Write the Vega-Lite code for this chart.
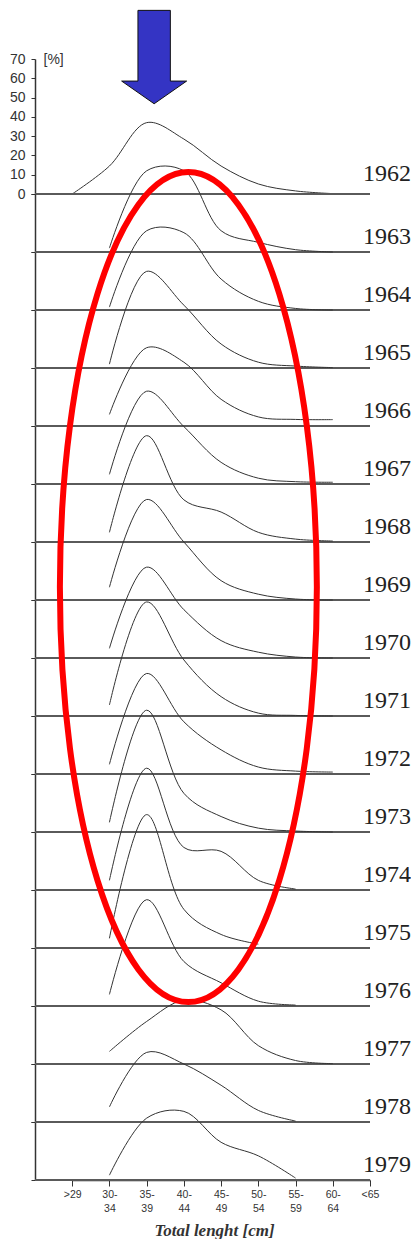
{
  "$schema": "https://vega.github.io/schema/vega-lite/v6.json",
  "padding": {"left": 9, "top": 8, "right": 0, "bottom": 0},
  "background": "white",
  "bounds": "flush",
  "config": {
    "view": {"stroke": null},
    "font": "Liberation Sans",
    "axis": {"grid": false, "domainColor": "#333", "tickColor": "#333", "labelColor": "#333", "titleColor": "#333"}
  },
  "data": {"values": [
    {"year": 1962, "cls": ">29", "pct": 0}, {"year": 1962, "cls": "30-34", "pct": 14.5}, {"year": 1962, "cls": "35-39", "pct": 37}, {"year": 1962, "cls": "40-44", "pct": 28.5}, {"year": 1962, "cls": "45-49", "pct": 14.5}, {"year": 1962, "cls": "50-54", "pct": 5.2}, {"year": 1962, "cls": "55-59", "pct": 1.6}, {"year": 1962, "cls": "60-64", "pct": 0.2},
    {"year": 1963, "cls": "30-34", "pct": 2}, {"year": 1963, "cls": "35-39", "pct": 42}, {"year": 1963, "cls": "40-44", "pct": 42}, {"year": 1963, "cls": "45-49", "pct": 11}, {"year": 1963, "cls": "50-54", "pct": 5}, {"year": 1963, "cls": "55-59", "pct": 1.2}, {"year": 1963, "cls": "60-64", "pct": 0},
    {"year": 1964, "cls": "30-34", "pct": 1.5}, {"year": 1964, "cls": "35-39", "pct": 41}, {"year": 1964, "cls": "40-44", "pct": 40}, {"year": 1964, "cls": "45-49", "pct": 16}, {"year": 1964, "cls": "50-54", "pct": 4.5}, {"year": 1964, "cls": "55-59", "pct": 0.8}, {"year": 1964, "cls": "60-64", "pct": 0},
    {"year": 1965, "cls": "30-34", "pct": 2}, {"year": 1965, "cls": "35-39", "pct": 50}, {"year": 1965, "cls": "40-44", "pct": 32.5}, {"year": 1965, "cls": "45-49", "pct": 12.4}, {"year": 1965, "cls": "50-54", "pct": 3}, {"year": 1965, "cls": "55-59", "pct": 1}, {"year": 1965, "cls": "60-64", "pct": 0.2},
    {"year": 1966, "cls": "30-34", "pct": 6}, {"year": 1966, "cls": "35-39", "pct": 40.5}, {"year": 1966, "cls": "40-44", "pct": 33}, {"year": 1966, "cls": "45-49", "pct": 13.8}, {"year": 1966, "cls": "50-54", "pct": 4.7}, {"year": 1966, "cls": "55-59", "pct": 3.4}, {"year": 1966, "cls": "60-64", "pct": 3.3},
    {"year": 1967, "cls": "30-34", "pct": 5}, {"year": 1967, "cls": "35-39", "pct": 48}, {"year": 1967, "cls": "40-44", "pct": 29.7}, {"year": 1967, "cls": "45-49", "pct": 11.2}, {"year": 1967, "cls": "50-54", "pct": 3}, {"year": 1967, "cls": "55-59", "pct": 1.2}, {"year": 1967, "cls": "60-64", "pct": 0.9},
    {"year": 1968, "cls": "30-34", "pct": 5}, {"year": 1968, "cls": "35-39", "pct": 55}, {"year": 1968, "cls": "40-44", "pct": 21.8}, {"year": 1968, "cls": "45-49", "pct": 15.5}, {"year": 1968, "cls": "50-54", "pct": 5}, {"year": 1968, "cls": "55-59", "pct": 1.5}, {"year": 1968, "cls": "60-64", "pct": 0.5},
    {"year": 1969, "cls": "30-34", "pct": 6.6}, {"year": 1969, "cls": "35-39", "pct": 52}, {"year": 1969, "cls": "40-44", "pct": 30}, {"year": 1969, "cls": "45-49", "pct": 10}, {"year": 1969, "cls": "50-54", "pct": 3}, {"year": 1969, "cls": "55-59", "pct": 0.5}, {"year": 1969, "cls": "60-64", "pct": 0},
    {"year": 1970, "cls": "30-34", "pct": 5}, {"year": 1970, "cls": "35-39", "pct": 47}, {"year": 1970, "cls": "40-44", "pct": 25}, {"year": 1970, "cls": "45-49", "pct": 9}, {"year": 1970, "cls": "50-54", "pct": 3}, {"year": 1970, "cls": "55-59", "pct": 0.5}, {"year": 1970, "cls": "60-64", "pct": 0},
    {"year": 1971, "cls": "30-34", "pct": 5.7}, {"year": 1971, "cls": "35-39", "pct": 59}, {"year": 1971, "cls": "40-44", "pct": 29}, {"year": 1971, "cls": "45-49", "pct": 10}, {"year": 1971, "cls": "50-54", "pct": 1.5}, {"year": 1971, "cls": "55-59", "pct": 0.3}, {"year": 1971, "cls": "60-64", "pct": 0},
    {"year": 1972, "cls": "30-34", "pct": 5}, {"year": 1972, "cls": "35-39", "pct": 52}, {"year": 1972, "cls": "40-44", "pct": 27}, {"year": 1972, "cls": "45-49", "pct": 12.5}, {"year": 1972, "cls": "50-54", "pct": 3.6}, {"year": 1972, "cls": "55-59", "pct": 1.5}, {"year": 1972, "cls": "60-64", "pct": 1},
    {"year": 1973, "cls": "30-34", "pct": 5}, {"year": 1973, "cls": "35-39", "pct": 63}, {"year": 1973, "cls": "40-44", "pct": 20}, {"year": 1973, "cls": "45-49", "pct": 8}, {"year": 1973, "cls": "50-54", "pct": 2}, {"year": 1973, "cls": "55-59", "pct": 0.5}, {"year": 1973, "cls": "60-64", "pct": 0},
    {"year": 1974, "cls": "30-34", "pct": 5}, {"year": 1974, "cls": "35-39", "pct": 63}, {"year": 1974, "cls": "40-44", "pct": 22}, {"year": 1974, "cls": "45-49", "pct": 20}, {"year": 1974, "cls": "50-54", "pct": 5}, {"year": 1974, "cls": "55-59", "pct": 0.5},
    {"year": 1975, "cls": "30-34", "pct": 5}, {"year": 1975, "cls": "35-39", "pct": 69}, {"year": 1975, "cls": "40-44", "pct": 20}, {"year": 1975, "cls": "45-49", "pct": 7}, {"year": 1975, "cls": "50-54", "pct": 2},
    {"year": 1976, "cls": "30-34", "pct": 6}, {"year": 1976, "cls": "35-39", "pct": 55}, {"year": 1976, "cls": "40-44", "pct": 23}, {"year": 1976, "cls": "45-49", "pct": 12}, {"year": 1976, "cls": "50-54", "pct": 2.5}, {"year": 1976, "cls": "55-59", "pct": 0.5},
    {"year": 1977, "cls": "30-34", "pct": 6.5}, {"year": 1977, "cls": "35-39", "pct": 22}, {"year": 1977, "cls": "40-44", "pct": 33}, {"year": 1977, "cls": "45-49", "pct": 28}, {"year": 1977, "cls": "50-54", "pct": 9.5}, {"year": 1977, "cls": "55-59", "pct": 1.8}, {"year": 1977, "cls": "60-64", "pct": 0.2},
    {"year": 1978, "cls": "30-34", "pct": 7.8}, {"year": 1978, "cls": "35-39", "pct": 36}, {"year": 1978, "cls": "40-44", "pct": 30}, {"year": 1978, "cls": "45-49", "pct": 19}, {"year": 1978, "cls": "50-54", "pct": 6}, {"year": 1978, "cls": "55-59", "pct": 0.5},
    {"year": 1979, "cls": "30-34", "pct": 2.5}, {"year": 1979, "cls": "35-39", "pct": 32}, {"year": 1979, "cls": "40-44", "pct": 35.5}, {"year": 1979, "cls": "45-49", "pct": 19.5}, {"year": 1979, "cls": "50-54", "pct": 12.5}, {"year": 1979, "cls": "55-59", "pct": 1}
  ]},
  "spacing": 0,
  "resolve": {"scale": {"x": "independent", "y": "independent"}},
  "vconcat": [
    {
      "width": 335,
      "height": 135,
      "transform": [{"filter": "datum.year == 1962"}],
      "layer": [
        {
          "mark": {"type": "line", "interpolate": "catmull-rom", "color": "#333", "strokeWidth": 1},
          "encoding": {
            "x": {"field": "cls", "type": "ordinal", "sort": [">29", "30-34", "35-39", "40-44", "45-49", "50-54", "55-59", "60-64", "<65"],
                  "scale": {"type": "point", "domain": [">29", "30-34", "35-39", "40-44", "45-49", "50-54", "55-59", "60-64", "<65"], "range": [37.2, 335], "padding": 0},
                  "axis": null},
            "y": {"field": "pct", "type": "quantitative",
                  "scale": {"domain": [0, 70], "nice": false, "zero": true},
                  "axis": {"values": [0, 10, 20, 30, 40, 50, 60, 70], "tickCount": 8, "title": "[%]", "titleAngle": 0, "titleAlign": "left", "titleBaseline": "middle", "titleX": 8, "titleY": 0, "titleFontSize": 14, "titleFontWeight": "normal", "labelFontSize": 14, "labelPadding": 6, "labelOverlap": false, "labelFlush": false, "labelBound": false, "labelSeparation": 0, "tickSize": 4, "domainWidth": 1.5}}
          }
        },
        {
          "transform": [{"filter": "datum.cls == '35-39'"}],
          "mark": {"type": "rule", "color": "#5a5a5a", "strokeWidth": 1.8},
          "encoding": {"y": {"datum": 0, "type": "quantitative",
                  "scale": {"domain": [0, 70], "nice": false, "zero": true},
                  "axis": {"values": [0, 10, 20, 30, 40, 50, 60, 70], "tickCount": 8, "title": "[%]", "titleAngle": 0, "titleAlign": "left", "titleBaseline": "middle", "titleX": 8, "titleY": 0, "titleFontSize": 14, "titleFontWeight": "normal", "labelFontSize": 14, "labelPadding": 6, "labelOverlap": false, "labelFlush": false, "labelBound": false, "labelSeparation": 0, "tickSize": 4, "domainWidth": 1.5}}}
        },
        {
          "transform": [{"filter": "datum.cls == '35-39'"}],
          "mark": {"type": "text", "font": "Liberation Serif", "fontSize": 24, "align": "left", "baseline": "alphabetic", "dx": -7, "color": "#222"},
          "encoding": {
            "x": {"datum": "<65", "type": "ordinal"},
            "y": {"datum": 7, "type": "quantitative"},
            "text": {"field": "year", "type": "nominal"}
          }
        },
        {
          "transform": [{"filter": "datum.cls == '35-39'"}],
          "mark": {"type": "point", "shape": "M -0.347 -1 L 0.347 -1 L 0.347 0.514 L 0.696 0.514 L 0 1 L -0.696 0.514 L -0.347 0.514 Z", "size": 8724, "filled": true, "color": "#3434c4", "stroke": "#111", "strokeWidth": 1, "opacity": 1, "xOffset": 7.5},
          "encoding": {
            "x": {"datum": "35-39", "type": "ordinal"},
            "y": {"datum": 71, "type": "quantitative"}
          }
        }
      ]
    },
    {
      "transform": [{"filter": "datum.year > 1962"}],
      "facet": {"row": {"field": "year", "type": "ordinal", "header": null}},
      "spacing": 0,
      "bounds": "flush",
      "spec": {
        "width": 335,
        "height": 58,
        "layer": [
          {
            "transform": [{"filter": "datum.cls == '35-39'"}],
            "mark": {"type": "rule", "color": "#5a5a5a", "strokeWidth": 1.8},
            "encoding": {"y": {"datum": 0, "type": "quantitative"}}
          },
          {
            "mark": {"type": "line", "interpolate": "catmull-rom", "color": "#333", "strokeWidth": 1},
            "encoding": {
              "x": {"field": "cls", "type": "ordinal", "sort": [">29", "30-34", "35-39", "40-44", "45-49", "50-54", "55-59", "60-64", "<65"],
                    "scale": {"type": "point", "domain": [">29", "30-34", "35-39", "40-44", "45-49", "50-54", "55-59", "60-64", "<65"], "range": [37.2, 335], "padding": 0},
                    "axis": {"title": "Total lenght [cm]", "labelExpr": "datum.value == '>29' || datum.value == '<65' ? datum.value : [slice(datum.value, 0, 3), slice(datum.value, 3)]", "labelAngle": 0, "labelFontSize": 10.5, "labelLineHeight": 14, "labelPadding": 3, "tickSize": 6, "domainWidth": 1.5, "titleFont": "Liberation Serif", "titleFontStyle": "italic", "titleFontWeight": "bold", "titleFontSize": 17, "titlePadding": 9, "titleX": 179}},
              "y": {"field": "pct", "type": "quantitative",
                    "scale": {"domain": [0, 30], "nice": false, "zero": true},
                    "axis": {"values": [0, 10, 20, 30], "labels": false, "title": null, "tickSize": 4, "domainWidth": 1.5}}
            }
          },
          {
            "transform": [{"filter": "datum.cls == '35-39'"}],
            "mark": {"type": "text", "font": "Liberation Serif", "fontSize": 24, "align": "left", "baseline": "alphabetic", "dx": -7, "color": "#222"},
            "encoding": {
              "x": {"datum": "<65", "type": "ordinal"},
              "y": {"datum": 4, "type": "quantitative"},
              "text": {"field": "year", "type": "nominal"}
            }
          },
          {
            "transform": [{"filter": "datum.year == 1979 && datum.cls == '35-39'"}],
            "mark": {"type": "point", "shape": "M -0.3096 0 A 0.3096 1 0 1 0 0.3096 0 A 0.3096 1 0 1 0 -0.3096 0 Z", "size": 688900, "filled": false, "color": "#ff0000", "strokeWidth": 6, "opacity": 1, "xOffset": 4.5},
            "encoding": {
              "x": {"datum": "40-44", "type": "ordinal"},
              "y": {"datum": 306.7, "type": "quantitative"}
            }
          }
        ]
      }
    }
  ]
}
